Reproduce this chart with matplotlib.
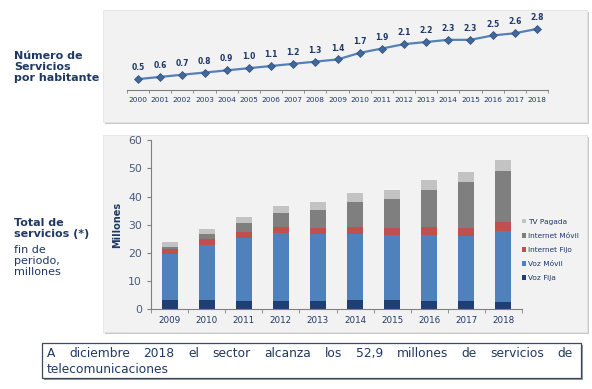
import matplotlib
matplotlib.use("Agg")
import matplotlib.pyplot as plt
from matplotlib.patches import Rectangle
from matplotlib.ticker import FixedLocator

W, H = 592, 389

# --- data ---
years_line = [str(y) for y in range(2000, 2019)]
serv_hab = [0.5, 0.6, 0.7, 0.8, 0.9, 1.0, 1.1, 1.2, 1.3, 1.4,
            1.7, 1.9, 2.1, 2.2, 2.3, 2.3, 2.5, 2.6, 2.8]

years_bar = [str(y) for y in range(2009, 2019)]
voz_fija = [3.3, 3.3, 3.0, 3.0, 3.0, 3.3, 3.3, 3.0, 3.0, 2.6]
voz_movil = [16.3, 19.5, 22.3, 24.2, 23.7, 23.4, 22.9, 23.2, 23.0, 25.3]
internet_fijo = [1.8, 2.1, 2.0, 2.1, 2.1, 2.6, 2.6, 3.1, 2.8, 3.1]
internet_movil = [0.8, 1.7, 3.4, 5.0, 6.5, 8.9, 10.5, 13.2, 16.5, 18.2]
tv_pagada = [1.8, 1.9, 2.0, 2.5, 2.9, 3.2, 3.0, 3.4, 3.5, 3.7]

series = [("Voz Fija", voz_fija, "#1f3f73"),
          ("Voz Móvil", voz_movil, "#4f81bd"),
          ("Internet Fijo", internet_fijo, "#c0504d"),
          ("Internet Móvil", internet_movil, "#7f7f7f"),
          ("TV Pagada", tv_pagada, "#c3c3c3")]

NAVY = "#1f3864"
note = "A diciembre 2018 el sector alcanza los 52,9 millones de servicios de"
note2 = "telecomunicaciones"


def px_rect(x0, y0, x1, y1):
    """pixel box (from top-left) -> figure fraction rect"""
    return [x0 / W, 1 - y1 / H, (x1 - x0) / W, (y1 - y0) / H]


fig = plt.figure(figsize=(W / 100, H / 100), dpi=100)
fig.patch.set_facecolor("white")


def box(x0, y0, x1, y1, face, edge, lw, shadow):
    l, b, w, h = px_rect(x0, y0, x1, y1)
    fig.patches.append(Rectangle((l + 2 / W, b - 2 / H), w, h, transform=fig.transFigure,
                                 facecolor=shadow, edgecolor="none", zorder=-3))
    fig.patches.append(Rectangle((l, b), w, h, transform=fig.transFigure,
                                 facecolor=face, edgecolor=edge, lw=lw, zorder=-2))


box(103, 10, 587, 122, "#f2f2f2", "#e4e4e4", 0.6, "#c8c8c8")
box(103, 135, 587, 332, "#f2f2f2", "#e4e4e4", 0.6, "#c8c8c8")

# --- top: services per inhabitant ---
ax1 = fig.add_axes(px_rect(127, 18, 548, 90))
ax1.set_facecolor("none")
x = range(len(serv_hab))
ax1.plot(x, serv_hab, color="#5580b8", lw=1.6, marker="D", ms=4,
         mfc="#40689c", mec="#2f4f7a", mew=0.5)
for xi, v in zip(x, serv_hab):
    ax1.annotate(f"{v:.1f}", (xi, v), xytext=(0, 5), textcoords="offset points",
                 ha="center", va="bottom", fontsize=5.5, fontweight="bold", color=NAVY)
ax1.set_xlim(-0.5, len(serv_hab) - 0.5)
ax1.set_ylim(0, 3.3)
ax1.set_xticks(list(x))
ax1.set_xticklabels(years_line, fontsize=5.3, color=NAVY)
ax1.xaxis.set_minor_locator(FixedLocator([i - 0.5 for i in range(len(serv_hab) + 1)]))
ax1.tick_params(axis="x", which="major", length=0, pad=5)
ax1.tick_params(axis="x", which="minor", length=2.5, color="#808080", direction="out")
ax1.set_yticks([])
for s in ["top", "right", "left"]:
    ax1.spines[s].set_visible(False)
ax1.spines["bottom"].set_color("#808080")
ax1.spines["bottom"].set_linewidth(0.8)

# --- bottom: total services, stacked bars ---
ax2 = fig.add_axes(px_rect(151, 140.3, 522, 309))
ax2.set_facecolor("none")
xb = range(len(years_bar))
bottom = [0] * len(years_bar)
for name, vals, col in series:
    ax2.bar(xb, vals, 0.43, bottom=bottom, color=col, label=name, zorder=2)
    bottom = [b + v for b, v in zip(bottom, vals)]
ax2.set_xlim(-0.5, len(years_bar) - 0.5)
ax2.set_ylim(0, 60)
ax2.set_yticks(range(0, 61, 10))
ax2.set_xticks(list(xb))
ax2.set_xticklabels(years_bar, fontsize=6.3, color=NAVY)
ax2.xaxis.set_minor_locator(FixedLocator([i - 0.5 for i in range(len(years_bar) + 1)]))
ax2.tick_params(axis="x", which="major", length=0, pad=5)
ax2.tick_params(axis="x", which="minor", length=3, color="#808080")
ax2.tick_params(axis="y", labelsize=7.8, labelcolor="#4a5a78", length=3, color="#808080")
ax2.set_ylabel("Millones", fontsize=7, fontweight="bold", color=NAVY, labelpad=4)
for s in ["top", "right"]:
    ax2.spines[s].set_visible(False)
for s in ["bottom", "left"]:
    ax2.spines[s].set_color("#808080")
    ax2.spines[s].set_linewidth(0.8)

h, l = ax2.get_legend_handles_labels()
fig.legend(h[::-1], l[::-1], loc="upper left", bbox_to_anchor=(518 / W, 1 - 215 / H),
           frameon=False, fontsize=5.3, handlelength=0.6, handleheight=0.6,
           handletextpad=0.3, labelspacing=1.1, borderpad=0, labelcolor=NAVY)

# --- left labels ---
fig.text(14 / W, 1 - 51 / H, "Número de\nServicios\npor habitante", fontsize=8,
         fontweight="bold", color=NAVY, va="top", ha="left", linespacing=1.1)
fig.text(14 / W, 1 - 218 / H, "Total de\nservicios (*)", fontsize=8,
         fontweight="bold", color=NAVY, va="top", ha="left", linespacing=1.1)
fig.text(14 / W, 1 - 245 / H, "fin de\nperiodo,\nmillones", fontsize=8,
         color=NAVY, va="top", ha="left", linespacing=1.1)

# --- note box ---
box(42, 343, 581, 378, "white", "#3a4a60", 0.9, "#9a9a9a")

# justified first line
words = note.split()
renderer = fig.canvas.get_renderer()
objs = [fig.text(0, 1 - 357 / H, wd, fontsize=8.8, color=NAVY, va="baseline") for wd in words]
widths = [o.get_window_extent(renderer).width for o in objs]
x0, x1 = 47, 573
gap = (x1 - x0 - sum(widths)) / (len(words) - 1)
xpos = x0
for o, wdt in zip(objs, widths):
    o.set_x(xpos / W)
    xpos += wdt + gap
fig.text(x0 / W, 1 - 373 / H, note2, fontsize=8.8, color=NAVY, va="baseline")

fig.savefig("out.png", dpi=100)
